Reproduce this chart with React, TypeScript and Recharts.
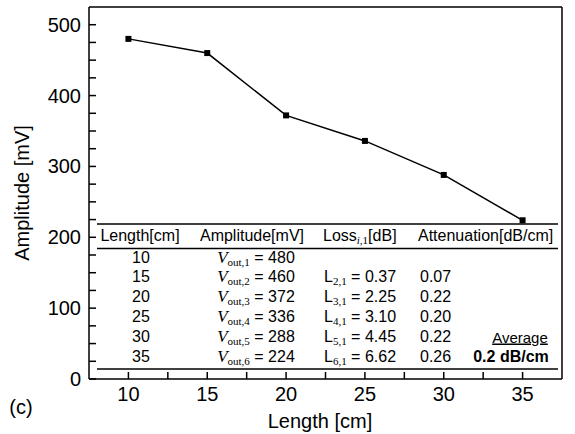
import React from "react";
import { LineChart, Line, XAxis, YAxis } from "recharts";

const lengths = [10, 15, 20, 25, 30, 35];
const amplitudes = [480, 460, 372, 336, 288, 224];
const losses: (number | null)[] = [null, 0.37, 2.25, 3.1, 4.45, 6.62];
const attenuations: (number | null)[] = [null, 0.07, 0.22, 0.2, 0.22, 0.26];
const averageAttenuation = "0.2 dB/cm";

const xTicks = [10, 12.5, 15, 17.5, 20, 22.5, 25, 27.5, 30, 32.5, 35];
const yTicks = [
  0, 25, 50, 75, 100, 125, 150, 175, 200, 225, 250, 275, 300, 325, 350, 375,
  400, 425, 450, 475, 500,
];

const data = lengths.map((x, i) => ({ x, amp: amplitudes[i] }));

const FONT = "'Liberation Sans', Arial, sans-serif";
const SERIF = "'Liberation Serif', 'Times New Roman', serif";
const TICK_LINE = { stroke: "#000", strokeWidth: 1.5 };

// labels only on the major ticks; tick lines are recharts' own (inward)
const BottomLabel = (props: any) => {
  const { x, y, payload } = props;
  if (payload.value % 5 !== 0) return <g />;
  return (
    <text x={x} y={y + 23} textAnchor="middle" fontSize={20} fontFamily={FONT} fill="#000">
      {payload.value}
    </text>
  );
};

const LeftLabel = (props: any) => {
  const { x, y, payload } = props;
  if (payload.value % 100 !== 0) return <g />;
  return (
    <text x={x} y={y + 7} textAnchor="end" fontSize={20} fontFamily={FONT} fill="#000">
      {payload.value}
    </text>
  );
};

const SquareDot = (props: any) => {
  const { cx, cy, index } = props;
  return <rect key={index} x={cx - 3} y={cy - 3} width={6} height={6} fill="#000" />;
};

function Table() {
  const rowBase = (i: number) => 262.5 + i * 19.8;
  return (
    <svg
      width={575}
      height={434}
      style={{ position: "absolute", left: 0, top: 0, pointerEvents: "none" }}
      fontFamily={FONT}
      fontSize={16}
    >
      <line x1={97} x2={558} y1={224} y2={224} stroke="#000" strokeWidth={1.5} />
      <line x1={97} x2={558} y1={248.5} y2={248.5} stroke="#000" strokeWidth={1.5} />
      <line x1={97} x2={558} y1={369} y2={369} stroke="#000" strokeWidth={1.5} />

      <text x={140} y={241} textAnchor="middle" fill="#000">Length[cm]</text>
      <text x={252} y={241} textAnchor="middle" fill="#000">Amplitude[mV]</text>
      <text x={323} y={241} fill="#000">
        Loss
        <tspan fontFamily={SERIF} fontStyle="italic" fontSize={11} dy={3}>i</tspan>
        <tspan fontFamily={SERIF} fontSize={11}>,1</tspan>
        <tspan dy={-3}>[dB]</tspan>
      </text>
      <text x={418} y={241} fill="#000">Attenuation[dB/cm]</text>

      {lengths.map((len, i) => (
        <g key={len} fill="#000">
          <text x={141} y={rowBase(i)} textAnchor="middle">{len}</text>
          <text x={256} y={rowBase(i)} textAnchor="middle">
            <tspan fontFamily={SERIF} fontStyle="italic" fontSize={17}>V</tspan>
            <tspan fontFamily={SERIF} fontSize={11} dy={3}>{`out,${i + 1}`}</tspan>
            <tspan dy={-3}>{` = ${amplitudes[i]}`}</tspan>
          </text>
          {losses[i] !== null && (
            <text x={324} y={rowBase(i)}>
              L
              <tspan fontFamily={SERIF} fontSize={11} dy={3}>{`${i + 1},1`}</tspan>
              <tspan dy={-3}>{` = ${(losses[i] as number).toFixed(2)}`}</tspan>
            </text>
          )}
          {attenuations[i] !== null && (
            <text x={420} y={rowBase(i)}>{(attenuations[i] as number).toFixed(2)}</text>
          )}
        </g>
      ))}

      <text x={520} y={342.5} textAnchor="middle" fontSize={15} textDecoration="underline" fill="#000">
        Average
      </text>
      <text x={511} y={361.5} textAnchor="middle" fontWeight="bold" fill="#000">
        {averageAttenuation}
      </text>

      <text x={0} y={0} fontSize={20} textAnchor="middle" fill="#000" transform="translate(29 193) rotate(-90)">
        Amplitude [mV]
      </text>
      <text x={320} y={428} fontSize={20} textAnchor="middle" fill="#000">Length [cm]</text>
      <text x={21} y={414} fontSize={20} textAnchor="middle" fill="#000">(c)</text>
    </svg>
  );
}

export default function App() {
  return (
    <div style={{ position: "absolute", left: 0, top: 0, width: 575, height: 434, background: "#fff" }}>
      <Table />
      <LineChart width={575} height={434} data={data} margin={{ top: 6, right: 12, left: 0, bottom: 0 }}>
        <XAxis
          dataKey="x"
          type="number"
          domain={[7.5, 37.5]}
          allowDataOverflow
          ticks={xTicks}
          interval={0}
          height={55}
          tickSize={-7}
          tickMargin={6}
          tickLine={TICK_LINE}
          tick={BottomLabel}
          axisLine={{ stroke: "#000", strokeWidth: 1.5 }}
        />
        <XAxis
          xAxisId="top"
          orientation="top"
          dataKey="x"
          type="number"
          domain={[7.5, 37.5]}
          allowDataOverflow
          ticks={xTicks}
          interval={0}
          height={1}
          tickSize={-7}
          tickLine={TICK_LINE}
          tick={false}
          axisLine={{ stroke: "#000", strokeWidth: 1.5 }}
        />
        <YAxis
          type="number"
          domain={[0, 525]}
          allowDataOverflow
          ticks={yTicks}
          interval={0}
          width={89}
          tickSize={-7}
          tickMargin={15}
          tickLine={TICK_LINE}
          tick={LeftLabel}
          axisLine={{ stroke: "#000", strokeWidth: 1.5 }}
        />
        <YAxis
          yAxisId="right"
          orientation="right"
          type="number"
          domain={[0, 525]}
          allowDataOverflow
          ticks={yTicks}
          interval={0}
          width={1}
          tickSize={-7}
          tickLine={TICK_LINE}
          tick={false}
          axisLine={{ stroke: "#000", strokeWidth: 1.5 }}
        />
        <Line
          dataKey="amp"
          type="linear"
          stroke="#000"
          strokeWidth={1.5}
          dot={SquareDot}
          activeDot={false}
          isAnimationActive={false}
        />
      </LineChart>
    </div>
  );
}
